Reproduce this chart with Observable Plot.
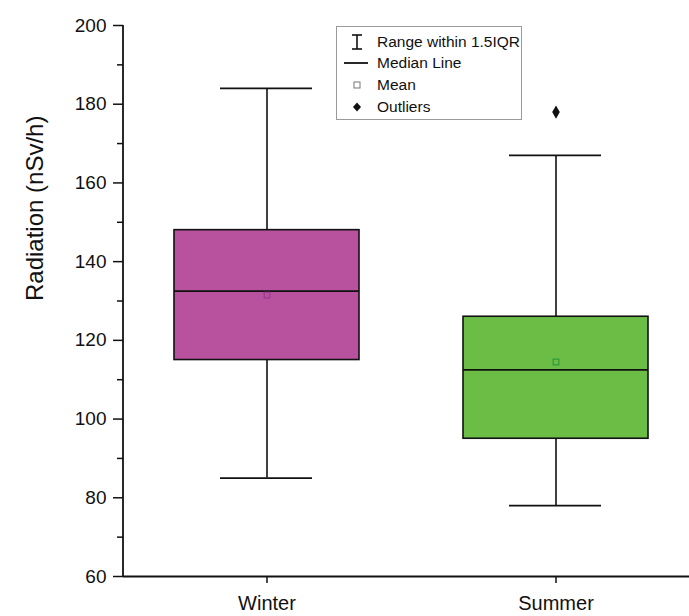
<!DOCTYPE html>
<html>
<head>
<meta charset="utf-8">
<script src="https://cdn.jsdelivr.net/npm/d3@7"></script>
<script src="https://cdn.jsdelivr.net/npm/@observablehq/plot@0.6"></script>
<style>
  html, body { margin: 0; padding: 0; background: #fff; }
  #wrap { position: relative; width: 689px; height: 616px; font-family: "Liberation Sans", Arial, sans-serif; }
  #legend { position: absolute; left: 336px; top: 26px; width: 184px; height: 92px; border: 1px solid #9a9a9a; background: #fff; font-size: 15.5px; color: #111; }
  .row { position: absolute; left: 0; height: 20px; display: flex; align-items: center; }
  .sym { width: 40px; display: flex; justify-content: center; align-items: center; }
</style>
</head>
<body>
<div id="wrap"></div>
<script>
const seasons = ["Winter", "Summer"];
const q1 = [115, 95];
const q3 = [148, 126];
const medians = [132.5, 112.5];
const means = [131.5, 114.5];
const whiskerLow = [85, 78];
const whiskerHigh = [184, 167];
const outlierSeason = ["Summer"];
const outlierValue = [178];
const fills = ["#b8529f", "#6cbd45"];
const meanStrokes = ["#9a3c90", "#2f9a3c"];
const majorTicks = [60, 80, 100, 120, 140, 160, 180, 200];
const minorTicks = [70, 90, 110, 130, 150, 170, 190];
const yLabel = "Radiation (nSv/h)";
const legendItems = ["Range within 1.5IQR", "Median Line", "Mean", "Outliers"];

const boxes = seasons.map((s, i) => ({
  season: s, q1: q1[i], q3: q3[i], median: medians[i], mean: means[i],
  lo: whiskerLow[i], hi: whiskerHigh[i], fill: fills[i], meanStroke: meanStrokes[i]
}));
const outliers = outlierSeason.map((s, i) => ({season: s, value: outlierValue[i]}));

const chart = Plot.plot({
  width: 689,
  height: 616,
  marginLeft: 123,
  marginRight: 0,
  marginTop: 25,
  marginBottom: 40,
  style: {fontFamily: "'Liberation Sans', Arial, sans-serif", background: "#fff", color: "#111"},
  x: {type: "band", domain: seasons, range: [123, 699], paddingInner: 0.36, paddingOuter: 0.176},
  y: {domain: [60, 200], range: [576, 25]},
  marks: [
    Plot.ruleX(boxes, {x: "season", y1: "lo", y2: "q1", stroke: "#111", strokeWidth: 1.6}),
    Plot.ruleX(boxes, {x: "season", y1: "q3", y2: "hi", stroke: "#111", strokeWidth: 1.6}),
    Plot.tickY(boxes, {x: "season", y: "lo", stroke: "#111", strokeWidth: 1.8, insetLeft: 46, insetRight: 47}),
    Plot.tickY(boxes, {x: "season", y: "hi", stroke: "#111", strokeWidth: 1.8, insetLeft: 46, insetRight: 47}),
    Plot.barY(boxes, {x: "season", y1: "q1", y2: "q3", fill: "fill", stroke: "#111", strokeWidth: 1.6}),
    Plot.tickY(boxes, {x: "season", y: "median", stroke: "#111", strokeWidth: 1.8}),
    Plot.dot(boxes, {x: "season", y: "mean", symbol: "square", r: 3.2, stroke: "meanStroke", strokeWidth: 1.2, fill: "none"}),
    Plot.dot(outliers, {x: "season", y: "value", symbol: "diamond", r: 4, fill: "#111", stroke: "none"}),
    Plot.axisY({ticks: majorTicks, tickSize: 10, tickPadding: 7, fontSize: 19, label: null, stroke: "#111", strokeWidth: 1.5}),
    Plot.axisY({ticks: minorTicks, tickSize: 6, tickFormat: () => "", label: null, stroke: "#111", strokeWidth: 1.5}),
    Plot.axisX({tickSize: 7, tickPadding: 12, fontSize: 20, label: null, stroke: "#111", strokeWidth: 1.5}),
    Plot.ruleY([60], {stroke: "#111", strokeWidth: 1.8}),
    Plot.text([yLabel], {frameAnchor: "left", rotate: -90, dx: -88, fontSize: 24, fill: "#111"}),
  ]
});
const wrap = document.getElementById("wrap");
wrap.appendChild(chart);

const yS = chart.scale("y");
const line = document.createElementNS("http://www.w3.org/2000/svg", "line");
line.setAttribute("x1", 123); line.setAttribute("x2", 123);
line.setAttribute("y1", yS.apply(200)); line.setAttribute("y2", yS.apply(60));
line.setAttribute("stroke", "#111"); line.setAttribute("stroke-width", 1.8);
chart.appendChild(line);

const legend = document.createElement("div");
legend.id = "legend";
const syms = [
  '<svg width="14" height="18"><line x1="7" y1="2" x2="7" y2="16" stroke="#111" stroke-width="1.6"/><line x1="2" y1="2" x2="12" y2="2" stroke="#111" stroke-width="1.6"/><line x1="2" y1="16" x2="12" y2="16" stroke="#111" stroke-width="1.6"/></svg>',
  '<svg width="26" height="6"><line x1="0" y1="3" x2="24" y2="3" stroke="#111" stroke-width="1.8"/></svg>',
  '<svg width="10" height="10"><rect x="2" y="2" width="6" height="6" fill="none" stroke="#777" stroke-width="1"/></svg>',
  '<svg width="12" height="12"><path d="M6 1.5 L10 6 L6 10.5 L2 6 Z" fill="#111"/></svg>'
];
const tops = [5, 26, 48, 70];
legendItems.forEach((t, i) => {
  const r = document.createElement("div");
  r.className = "row";
  r.style.top = tops[i] + "px";
  r.innerHTML = '<div class="sym">' + syms[i] + '</div><div>' + t + '</div>';
  legend.appendChild(r);
});
wrap.appendChild(legend);
</script>
</body>
</html>
